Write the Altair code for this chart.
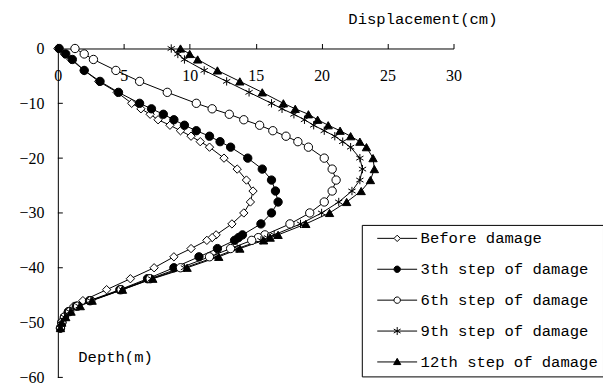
import altair as alt
import pandas as pd

# Depth below ground (m) of the measuring points
depth = [0, 1, 2, 4, 6, 8, 10, 11, 12, 13, 14, 15, 16, 17, 18, 20, 22, 24, 26, 28,
         30, 32, 34, 34.5, 35, 36.5, 38, 40, 42, 44, 46, 47, 48, 49, 50, 51]

series_names = ["Before damage", "3th step of damage", "6th step of damage",
                "9th step of damage", "12th step of damage"]

before = [0, 0.5, 1.0, 2.0, 3.1, 4.5, 5.6, 6.3, 7.0, 7.6, 8.5, 9.3, 10.1, 10.8, 11.5,
          12.6, 13.6, 14.3, 14.8, 14.6, 14.1, 13.2, 12.0, 11.7, 11.3, 10.1, 8.8, 7.3,
          5.5, 3.7, 1.9, 1.2, 0.8, 0.5, 0.3, 0.2]
step3 = [0.1, 0.6, 1.1, 2.0, 3.2, 4.6, 6.2, 7.1, 8.0, 8.8, 9.6, 10.5, 11.5, 12.3, 13.1,
         14.4, 15.5, 16.2, 16.5, 16.7, 16.2, 15.4, 14.0, 13.7, 13.4, 12.1, 10.7, 8.8,
         6.8, 4.7, 2.4, 1.4, 0.8, 0.5, 0.3, 0.2]
step6 = [1.3, 2.0, 2.7, 4.4, 6.2, 8.3, 10.5, 11.7, 13.0, 14.1, 15.3, 16.3, 17.3, 18.2,
         19.0, 20.2, 20.8, 21.1, 20.8, 20.2, 19.1, 17.6, 15.7, 15.2, 14.7, 13.1, 11.5,
         9.3, 7.0, 4.8, 2.5, 1.5, 0.9, 0.5, 0.3, 0.2]
step9 = [8.6, 9.1, 9.6, 11.1, 12.8, 14.5, 16.2, 17.0, 17.9, 18.7, 19.4, 20.2, 21.0,
         21.6, 22.2, 22.9, 23.1, 22.9, 22.3, 21.3, 20.0, 18.4, 16.4, 15.9, 15.4, 13.6,
         12.0, 9.6, 7.1, 4.9, 2.5, 1.6, 0.9, 0.5, 0.3, 0.2]
step12 = [9.3, 10.0, 10.6, 12.1, 13.8, 15.5, 17.1, 18.0, 19.0, 19.7, 20.5, 21.4, 22.2,
          22.9, 23.4, 23.9, 24.0, 23.7, 23.0, 21.9, 20.6, 18.8, 16.7, 16.1, 15.6, 13.8,
          12.2, 9.8, 7.2, 4.9, 2.6, 1.7, 1.0, 0.6, 0.3, 0.2]

x_ticks = [0, 5, 10, 15, 20, 25, 30]
y_ticks = [0, -10, -20, -30, -40, -50, -60]

all_series = [before, step3, step6, step9, step12]
rows = []
for name, vals in zip(series_names, all_series):
    for i, (d, v) in enumerate(zip(depth, vals)):
        rows.append({"series": name, "legend_series": name, "disp": v,
                     "depth": -d, "idx": i})
df = pd.DataFrame(rows)
ticks_df = pd.DataFrame({"depth": y_ticks})

ASTER = "M0,-1V1M-0.87,-0.5L0.87,0.5M-0.87,0.5L0.87,-0.5"
marker_shapes = ["diamond", "circle", "circle", ASTER, "triangle-up"]
marker_fills = ["white", "black", "white", "white", "black"]
marker_strokes = ["black", "black", "black", "black", "black"]

LINE = "M-2.5,0H-0.4M0.4,0H2.5"
leg_shapes = [
    LINE + "M-0.4,0L0,-0.4L0.4,0L0,0.4Z",
    LINE + "M0.4,0A0.4,0.4 0 1,1 -0.4,0A0.4,0.4 0 1,1 0.4,0Z",
    LINE + "M0.4,0A0.4,0.4 0 1,1 -0.4,0A0.4,0.4 0 1,1 0.4,0Z",
    "M-2.5,0H2.5M0,-0.5V0.5M-0.43,-0.25L0.43,0.25M-0.43,0.25L0.43,-0.25",
    "M-2.5,0H2.5M0,-0.45L0.45,0.33L-0.45,0.33Z",
]

MONO = "Liberation Mono"
SERIF = "Liberation Serif"

x_enc = alt.X("disp:Q",
              scale=alt.Scale(domain=[0, 30], nice=False, zero=False),
              axis=alt.Axis(orient="top", values=x_ticks, grid=False, tickSize=5,
                            labelFlush=False, labelFont=SERIF, labelFontSize=16,
                            labelColor="black", labelBaseline="top", labelPadding=-24,
                            domainColor="black", tickColor="black",
                            title="Displacement(cm)", titleFont=MONO,
                            titleFontSize=15.6, titleFontWeight="normal",
                            titleColor="black", titleX=291, titleY=-30,
                            titleAlign="left", titleBaseline="middle", titleAngle=0))
y_enc = alt.Y("depth:Q",
              scale=alt.Scale(domain=[-60, 0], nice=False, zero=False),
              axis=alt.Axis(values=y_ticks, grid=False, ticks=False, labelFlush=False,
                            labelFont=SERIF, labelFontSize=16, labelColor="black",
                            labelPadding=14, domainColor="black",
                            title="Depth(m)", titleFont=MONO, titleFontSize=15.6,
                            titleFontWeight="normal", titleColor="black",
                            titleAngle=0, titleX=20, titleY=309, titleAlign="left",
                            titleBaseline="middle"))

# inward tick marks on the depth axis
yticks = alt.Chart(ticks_df).mark_rule(color="black", strokeWidth=1).encode(
    x=alt.value(0), x2=alt.value(5), y=alt.Y("depth:Q"))

lines = alt.Chart(df).mark_line(color="black", strokeWidth=1).encode(
    x=x_enc, y=y_enc, detail="series:N", order="idx:Q")

points = alt.Chart(df).mark_point(filled=True, stroke="black", strokeWidth=1,
                                  size=70, opacity=1).encode(
    x=x_enc, y=y_enc,
    shape=alt.Shape("series:N", scale=alt.Scale(domain=series_names, range=marker_shapes),
                    legend=None),
    fill=alt.Fill("series:N", scale=alt.Scale(domain=series_names, range=marker_fills),
                  legend=None),
)

legend = alt.Legend(orient="none", legendX=305, legendY=177, title=None,
                    symbolSize=256, symbolOffset=22, symbolStrokeWidth=1,
                    symbolOpacity=1,
                    labelFont=MONO, labelFontSize=15.6,
                    labelColor="black", labelOffset=15, rowPadding=13,
                    padding=5, strokeColor="black", fillColor="white",
                    labelLimit=400)

legend_layer = alt.Chart(df).mark_point(filled=True, strokeWidth=1,
                                        size=70, opacity=0).encode(
    x=x_enc, y=y_enc,
    shape=alt.Shape("legend_series:N",
                    scale=alt.Scale(domain=series_names, range=leg_shapes),
                    legend=legend),
    fill=alt.Fill("legend_series:N",
                  scale=alt.Scale(domain=series_names, range=marker_fills),
                  legend=legend),
    stroke=alt.Stroke("legend_series:N",
                      scale=alt.Scale(domain=series_names, range=marker_strokes),
                      legend=legend),
)

chart = alt.layer(lines, points, legend_layer, yticks).resolve_scale(
    shape="independent", fill="independent", stroke="independent"
).properties(
    width=397, height=330,
    autosize=alt.AutoSizeParams(type="none"),
    padding={"left": 50, "top": 40, "right": 150, "bottom": 7},
).configure_view(stroke="transparent")

chart.save("out.html", embed_options={"renderer": "svg", "actions": False})
